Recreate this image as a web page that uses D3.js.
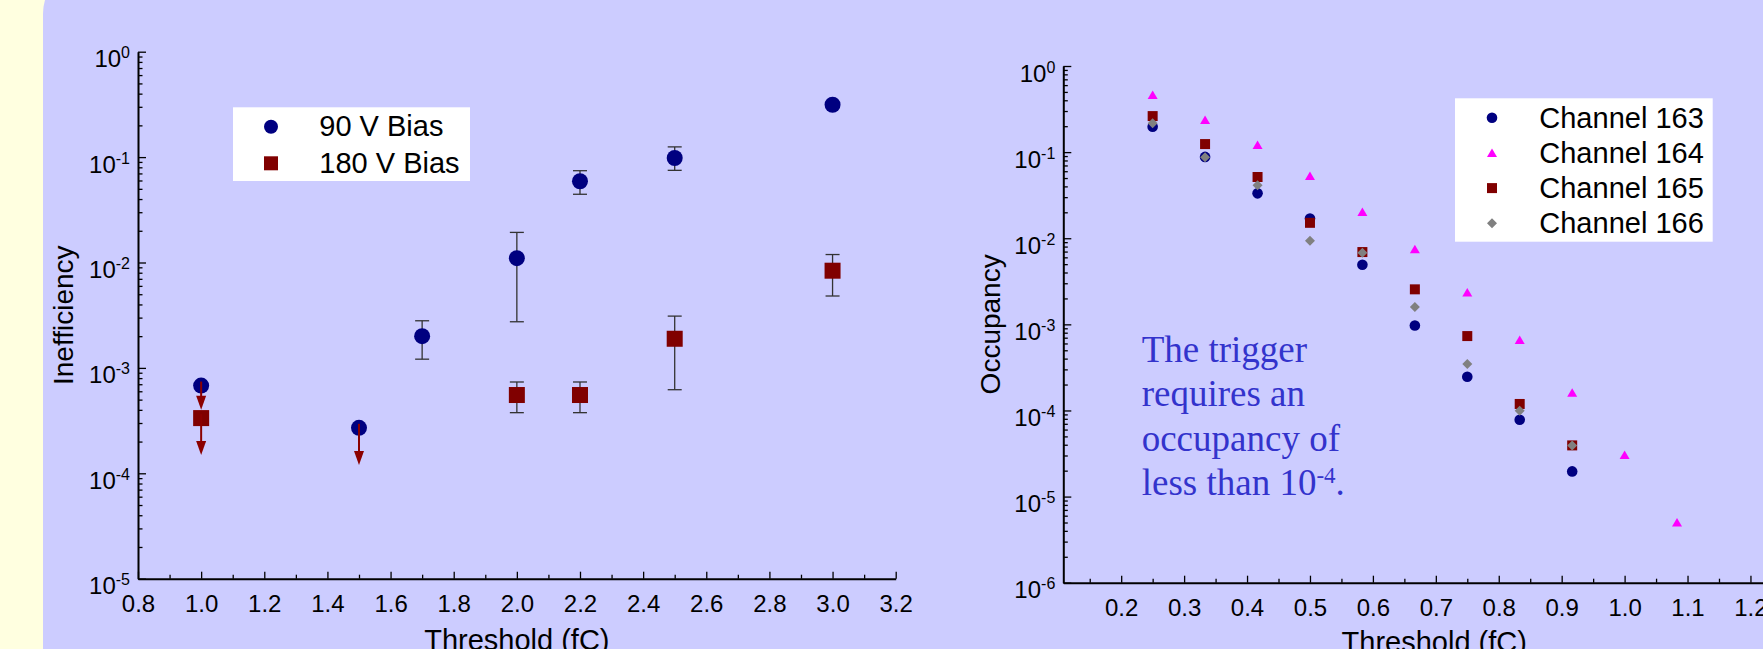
<!DOCTYPE html>
<html>
<head>
<meta charset="utf-8">
<script src="https://cdn.jsdelivr.net/npm/d3@7"></script>
<style>
body { margin: 0; background: #FFFFE0; }
svg { display: block; }
</style>
</head>
<body>
<div id="chart"></div>
<script>
// ---- left panel: inefficiency vs threshold ----
const ineffTicksX = [0.8, 1.0, 1.2, 1.4, 1.6, 1.8, 2.0, 2.2, 2.4, 2.6, 2.8, 3.0, 3.2];
const ineffDecades = [1e-5, 1e-4, 1e-3, 1e-2, 1e-1, 1];

const bias90X     = [1.0, 1.5, 1.7, 2.0, 2.2, 2.5, 3.0];
const bias90      = [6.8e-4, 2.7e-4, 2.0e-3, 1.1e-2, 5.9e-2, 9.8e-2, 0.314];
const bias90Lo    = [null, null, 1.21e-3, 2.74e-3, 4.44e-2, 7.49e-2, null];
const bias90Hi    = [null, null, 2.8e-3, 1.93e-2, 7.43e-2, 0.125, null];
const bias90Limit = [4.0e-4, 1.2e-4, null, null, null, null, null];

const bias180X     = [1.0, 2.0, 2.2, 2.5, 3.0];
const bias180      = [3.34e-4, 5.53e-4, 5.53e-4, 1.89e-3, 8.36e-3];
const bias180Lo    = [null, 3.76e-4, 3.76e-4, 6.21e-4, 4.81e-3];
const bias180Hi    = [null, 7.35e-4, 7.35e-4, 3.1e-3, 1.19e-2];
const bias180Limit = [1.49e-4, null, null, null, null];

const biasNames = ["90 V Bias", "180 V Bias"];

// ---- right panel: occupancy vs threshold ----
const occTicksX = [0.2, 0.3, 0.4, 0.5, 0.6, 0.7, 0.8, 0.9, 1.0, 1.1, 1.2];
const occDecades = [1e-6, 1e-5, 1e-4, 1e-3, 1e-2, 1e-1, 1];
const occX = [0.25, 0.3333, 0.4167, 0.5, 0.5833, 0.6667, 0.75, 0.8333, 0.9167, 1.0, 1.0833];

const ch163 = [0.197, 0.088, 0.0332, 0.0169, 0.00492, 9.7e-4, 2.46e-4, 7.8e-5, 1.96e-5];
const ch164 = [0.46, 0.236, 0.121, 0.0528, 0.0201, 0.00743, 2.35e-3, 6.57e-4, 1.61e-4, 3.03e-5, 5.0e-6];
const ch165 = [0.262, 0.124, 0.0514, 0.0151, 0.00691, 0.00255, 7.31e-4, 1.19e-4, 3.93e-5];
const ch166 = [0.216, 0.0869, 0.0411, 0.00936, 0.00679, 0.00159, 3.46e-4, 9.93e-5, 3.93e-5];
const channelNames = ["Channel 163", "Channel 164", "Channel 165", "Channel 166"];

const noteLines = ["The trigger", "requires an", "occupancy of", "less than 10"];

const width = 1763;
const height = 649;
const navy = "#000080", darkRed = "#800000", magenta = "#FF00FF", grey = "#808080";

let svg = d3.select("#chart")
            .append("svg")
            .attr("width", width)
            .attr("height", height)
            .style("font-family", "Arial, 'Liberation Sans', sans-serif");

svg.append("rect").attr("width", width).attr("height", height).attr("fill", "#FFFFE0");
svg.append("rect")
    .attr("x", 43).attr("y", -36)
    .attr("width", width).attr("height", height + 100)
    .attr("rx", 50).attr("ry", 50)
    .attr("fill", "#CCCCFF");

// scales
let xL = d3.scaleLinear().domain([0.8, 3.2]).range([138, 895.7]);
let yL = d3.scaleLog().domain([1e-5, 1]).range([578.7, 51.7]);
let xR = d3.scaleLinear().domain([0.108, 1.287]).range([1063.3, 1805.2]);
let yR = d3.scaleLog().domain([1e-6, 1]).range([582.7, 66]);

function yAxis(scale, x0, decades) {
    let minors = [];
    decades.slice(0, -1).forEach(function(d) {
        for (let k = 2; k < 10; k++) minors.push(d * k);
    });
    let g = svg.append("g").attr("transform", "translate(" + x0 + ",0)");
    g.append("g")
        .call(d3.axisLeft(scale).tickValues(minors).tickSize(-4.5).tickSizeOuter(0).tickFormat(""))
        .call(function(a) { a.select(".domain").remove(); });
    let major = g.append("g")
        .call(d3.axisLeft(scale).tickValues(decades).tickSize(-8).tickSizeOuter(0).tickPadding(8).tickFormat(""));
    major.attr("font-family", null);
    major.select(".domain").attr("stroke-width", 2);
    g.selectAll(".tick line").attr("stroke-width", 1.3);
    major.selectAll(".tick text")
        .attr("dy", null)
        .attr("y", 15)
        .attr("font-size", 24)
        .attr("fill", "#000")
        .each(function(d) {
            let t = d3.select(this);
            t.append("tspan").text("10");
            t.append("tspan").attr("dy", -9).attr("font-size", 16).text(Math.round(Math.log10(d)));
        });
}

function xAxis(scale, y0, ticks, minors) {
    let g = svg.append("g").attr("transform", "translate(0," + y0 + ")");
    g.append("g")
        .call(d3.axisBottom(scale).tickValues(minors).tickSize(-4).tickSizeOuter(0).tickFormat(""))
        .call(function(a) { a.select(".domain").remove(); });
    let major = g.append("g")
        .call(d3.axisBottom(scale).tickValues(ticks).tickSize(-7).tickSizeOuter(0).tickFormat(d3.format(".1f")));
    major.attr("font-family", null);
    major.select(".domain").attr("stroke-width", 2);
    g.selectAll(".tick line").attr("stroke-width", 1.3);
    major.selectAll(".tick text")
        .attr("dy", null)
        .attr("y", 33)
        .attr("font-size", 24)
        .attr("fill", "#000");
}

// ===== left chart =====
yAxis(yL, 138, ineffDecades);
xAxis(xL, 578.7, ineffTicksX, d3.pairs(ineffTicksX).map(function(p) { return (p[0] + p[1]) / 2; }));

svg.append("text")
    .attr("x", (xL.range()[0] + xL.range()[1]) / 2).attr("y", 650)
    .attr("text-anchor", "middle").attr("font-size", 29)
    .text("Threshold (fC)");
svg.append("text")
    .attr("transform", "translate(73.3," + ((yL.range()[0] + yL.range()[1]) / 2) + ") rotate(-90)")
    .attr("text-anchor", "middle").attr("font-size", 28)
    .text("Inefficiency");

function errorBars(xs, lo, hi, xs_scale, ys_scale) {
    let g = svg.append("g").attr("stroke", "#333").attr("stroke-width", 1.3);
    xs.forEach(function(x, i) {
        if (lo[i] == null) return;
        let cx = xs_scale(x);
        g.append("line").attr("x1", cx).attr("x2", cx).attr("y1", ys_scale(lo[i])).attr("y2", ys_scale(hi[i]));
        [lo[i], hi[i]].forEach(function(v) {
            g.append("line").attr("x1", cx - 7).attr("x2", cx + 7).attr("y1", ys_scale(v)).attr("y2", ys_scale(v));
        });
    });
}
errorBars(bias90X, bias90Lo, bias90Hi, xL, yL);
errorBars(bias180X, bias180Lo, bias180Hi, xL, yL);

svg.append("g").selectAll("circle")
    .data(bias90X)
    .enter()
    .append("circle")
    .attr("cx", function(d) { return xL(d); })
    .attr("cy", function(d, i) { return yL(bias90[i]); })
    .attr("r", 8)
    .attr("fill", navy);

svg.append("g").selectAll("rect")
    .data(bias180X)
    .enter()
    .append("rect")
    .attr("x", function(d) { return xL(d) - 8; })
    .attr("y", function(d, i) { return yL(bias180[i]) - 8; })
    .attr("width", 16).attr("height", 16)
    .attr("fill", darkRed);

// upper-limit arrows
function limitArrows(xs, vals, limits) {
    let g = svg.append("g");
    xs.forEach(function(x, i) {
        if (limits[i] == null) return;
        let cx = xL(x), tip = yL(limits[i]);
        g.append("line").attr("x1", cx).attr("x2", cx)
            .attr("y1", yL(vals[i]) - 4).attr("y2", tip - 12)
            .attr("stroke", "#8B0000").attr("stroke-width", 2);
        g.append("path")
            .attr("d", "M" + (cx - 5) + "," + (tip - 14) + "L" + (cx + 5) + "," + (tip - 14) + "L" + cx + "," + tip + "Z")
            .attr("fill", "#8B0000");
    });
}
limitArrows(bias90X, bias90, bias90Limit);
limitArrows(bias180X, bias180, bias180Limit);

// left legend
svg.append("rect").attr("x", 233).attr("y", 107.3).attr("width", 237).attr("height", 73.7).attr("fill", "#fff");
let legL = svg.append("g").selectAll("g")
    .data(biasNames)
    .enter()
    .append("g")
    .attr("transform", function(d, i) { return "translate(271," + (126.7 + i * 36.6) + ")"; });
legL.filter(function(d, i) { return i === 0; }).append("circle").attr("r", 7).attr("fill", navy);
legL.filter(function(d, i) { return i === 1; }).append("rect")
    .attr("x", -7).attr("y", -7).attr("width", 14).attr("height", 14).attr("fill", darkRed);
legL.append("text").attr("x", 48.3).attr("y", 9.5).attr("font-size", 29).text(function(d) { return d; });

// ===== right chart =====
yAxis(yR, 1063.3, occDecades);
xAxis(xR, 582.7, occTicksX, d3.range(0.15, 1.3, 0.1));

svg.append("text")
    .attr("x", (xR.range()[0] + xR.range()[1]) / 2).attr("y", 652)
    .attr("text-anchor", "middle").attr("font-size", 29)
    .text("Threshold (fC)");
svg.append("text")
    .attr("transform", "translate(1000," + ((yR.range()[0] + yR.range()[1]) / 2) + ") rotate(-90)")
    .attr("text-anchor", "middle").attr("font-size", 28)
    .text("Occupancy");

const shapes = {
    circle: function() { return d3.symbol(d3.symbolCircle, Math.PI * 5.3 * 5.3)(); },
    triangle: function() { return "M-5,4L5,4L0,-4.5Z"; },
    square: function() { return "M-5,-5L5,-5L5,5L-5,5Z"; },
    diamond: function() { return "M0,-5L5,0L0,5L-5,0Z"; }
};
const channelSeries = [ch163, ch164, ch165, ch166];
const channelShape = ["circle", "triangle", "square", "diamond"];
const channelColor = [navy, magenta, darkRed, grey];

channelSeries.forEach(function(vals, s) {
    svg.append("g").selectAll("path")
        .data(vals)
        .enter()
        .append("path")
        .attr("transform", function(d, i) { return "translate(" + xR(occX[i]) + "," + yR(d) + ")"; })
        .attr("d", shapes[channelShape[s]]())
        .attr("fill", channelColor[s]);
});

// right legend
svg.append("rect").attr("x", 1455).attr("y", 98.3).attr("width", 257.7).attr("height", 143.4).attr("fill", "#fff");
let legR = svg.append("g").selectAll("g")
    .data(channelNames)
    .enter()
    .append("g")
    .attr("transform", function(d, i) { return "translate(1492," + (117.7 + i * 35.2) + ")"; });
legR.append("path")
    .attr("d", function(d, i) { return shapes[channelShape[i]](); })
    .attr("fill", function(d, i) { return channelColor[i]; });
legR.append("text").attr("x", 47.3).attr("y", 10).attr("font-size", 29).text(function(d) { return d; });

// note
let note = svg.append("g")
    .attr("font-family", "'Times New Roman', 'Liberation Serif', serif")
    .attr("font-size", 37)
    .attr("fill", "#3333CC");
noteLines.forEach(function(line, i) {
    let t = note.append("text").attr("x", 1141.7).attr("y", 361.7 + i * 44.4).text(line);
    if (i === noteLines.length - 1) {
        t.append("tspan").attr("dy", -12).attr("font-size", 23).text("-4");
        t.append("tspan").attr("dy", 12).text(".");
    }
});
</script>
</body>
</html>
